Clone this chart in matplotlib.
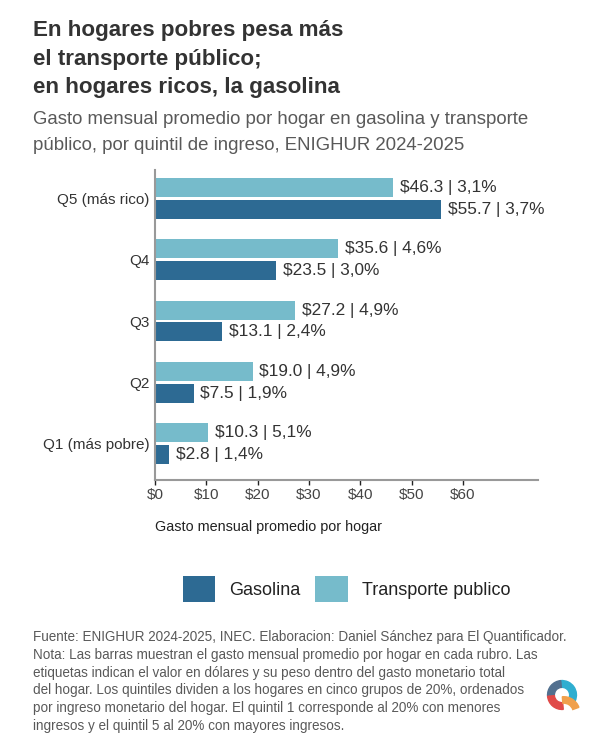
import matplotlib.pyplot as plt
from matplotlib.patches import Wedge
import numpy as np

plt.rcParams["font.family"] = ["Liberation Sans", "DejaVu Sans"]

# %%
# Data (ENIGHUR 2024-2025)
quintiles = ["Q1 (más pobre)", "Q2", "Q3", "Q4", "Q5 (más rico)"]
gasolina = [2.8, 7.5, 13.1, 23.5, 55.7]
gasolina_pct = [1.4, 1.9, 2.4, 3.0, 3.7]
transporte = [10.3, 19.0, 27.2, 35.6, 46.3]
transporte_pct = [5.1, 4.9, 4.9, 4.6, 3.1]
xticks = [0, 10, 20, 30, 40, 50, 60]

c_gas = "#2d6a93"
c_trans = "#76bbcb"
c_text = "#333333"
c_grey = "#595959"


def fmt_labels(values, pcts):
    return [f"${v:.1f} | " + f"{p:.1f}%".replace(".", ",") for v, p in zip(values, pcts)]


fig = plt.figure(figsize=(6, 7.5), dpi=100)
ax = fig.add_axes([155 / 600, 1 - 480 / 750, 383 / 600, 310 / 750])

y = np.arange(len(quintiles))
off = 0.179
h = 0.31
b_gas = ax.barh(y - off, gasolina, height=h, color=c_gas, label="Gasolina")
b_trans = ax.barh(y + off, transporte, height=h, color=c_trans, label="Transporte publico")

ax.bar_label(b_gas, labels=fmt_labels(gasolina, gasolina_pct), padding=5,
             fontsize=12.4, color=c_text)
ax.bar_label(b_trans, labels=fmt_labels(transporte, transporte_pct), padding=5,
             fontsize=12.4, color=c_text)

ax.set_xlim(0, 74.6)
ax.set_ylim(-0.593, 4.463)
ax.set_yticks(y)
ax.set_yticklabels(quintiles, fontsize=11, color=c_text)
ax.set_xticks(xticks)
ax.set_xticklabels([f"${t}" for t in xticks], fontsize=11, color="#444444")
ax.tick_params(axis="y", length=0, pad=4)
ax.tick_params(axis="x", length=3.5, width=1, color="#222222", pad=2)

for s in ["top", "right"]:
    ax.spines[s].set_visible(False)
for s in ["left", "bottom"]:
    ax.spines[s].set_color("#999999")
    ax.spines[s].set_linewidth(1.5)

ax.set_xlabel("Gasto mensual promedio por hogar", loc="left", fontsize=10.4,
              color="#222222", labelpad=13)

# title and subtitle
title_lines = ["En hogares pobres pesa más", "el transporte público;",
               "en hogares ricos, la gasolina"]
for i, line in enumerate(title_lines):
    fig.text(33 / 600, 1 - (36 + 28.5 * i) / 750, line, fontsize=16.1,
             fontweight="bold", color=c_text, va="baseline")

sub_lines = ["Gasto mensual promedio por hogar en gasolina y transporte",
             "público, por quintil de ingreso, ENIGHUR 2024-2025"]
for i, line in enumerate(sub_lines):
    fig.text(33 / 600, 1 - (124 + 26 * i) / 750, line, fontsize=13.45,
             color=c_grey, va="baseline")

# legend
handles = [b_gas, b_trans]
fig.legend(handles, [hd.get_label() for hd in handles], loc="center",
           bbox_to_anchor=(346.5 / 600, 1 - 589 / 750), ncol=2, frameon=False,
           fontsize=13, handlelength=1.78, handleheight=1.78,
           handletextpad=0.78, columnspacing=0.83, labelcolor="#222222")

# footnote
notes = [
    "Fuente: ENIGHUR 2024-2025, INEC. Elaboracion: Daniel Sánchez para El Quantificador.",
    "Nota: Las barras muestran el gasto mensual promedio por hogar en cada rubro. Las",
    "etiquetas indican el valor en dólares y su peso dentro del gasto monetario total",
    "del hogar. Los quintiles dividen a los hogares en cinco grupos de 20%, ordenados",
    "por ingreso monetario del hogar. El quintil 1 corresponde al 20% con menores",
    "ingresos y el quintil 5 al 20% con mayores ingresos.",
]
for i, line in enumerate(notes):
    fig.text(33 / 600, 1 - (641 + 17.8 * i) / 750, line, fontsize=9.75,
             color=c_grey, va="baseline")

# logo
lax = fig.add_axes([545 / 600, 1 - 712 / 750, 34 / 600, 34 / 750])
lax.set_aspect("equal")
lax.set_xlim(-1, 1)
lax.set_ylim(-1, 1)
lax.axis("off")
lax.add_patch(Wedge((0, 0), 0.85, -25, 95, width=0.4, color="#2eaed0"))
lax.add_patch(Wedge((0, 0), 0.85, 95, 185, width=0.4, color="#52708f"))
lax.add_patch(Wedge((0, 0), 0.85, 185, 275, width=0.4, color="#e04a48"))
lax.add_patch(Wedge((0.1, -1.05), 0.95, 20, 95, width=0.38, color="#f0a04c",
                    clip_on=False))

fig.savefig("out.png", dpi=100)
